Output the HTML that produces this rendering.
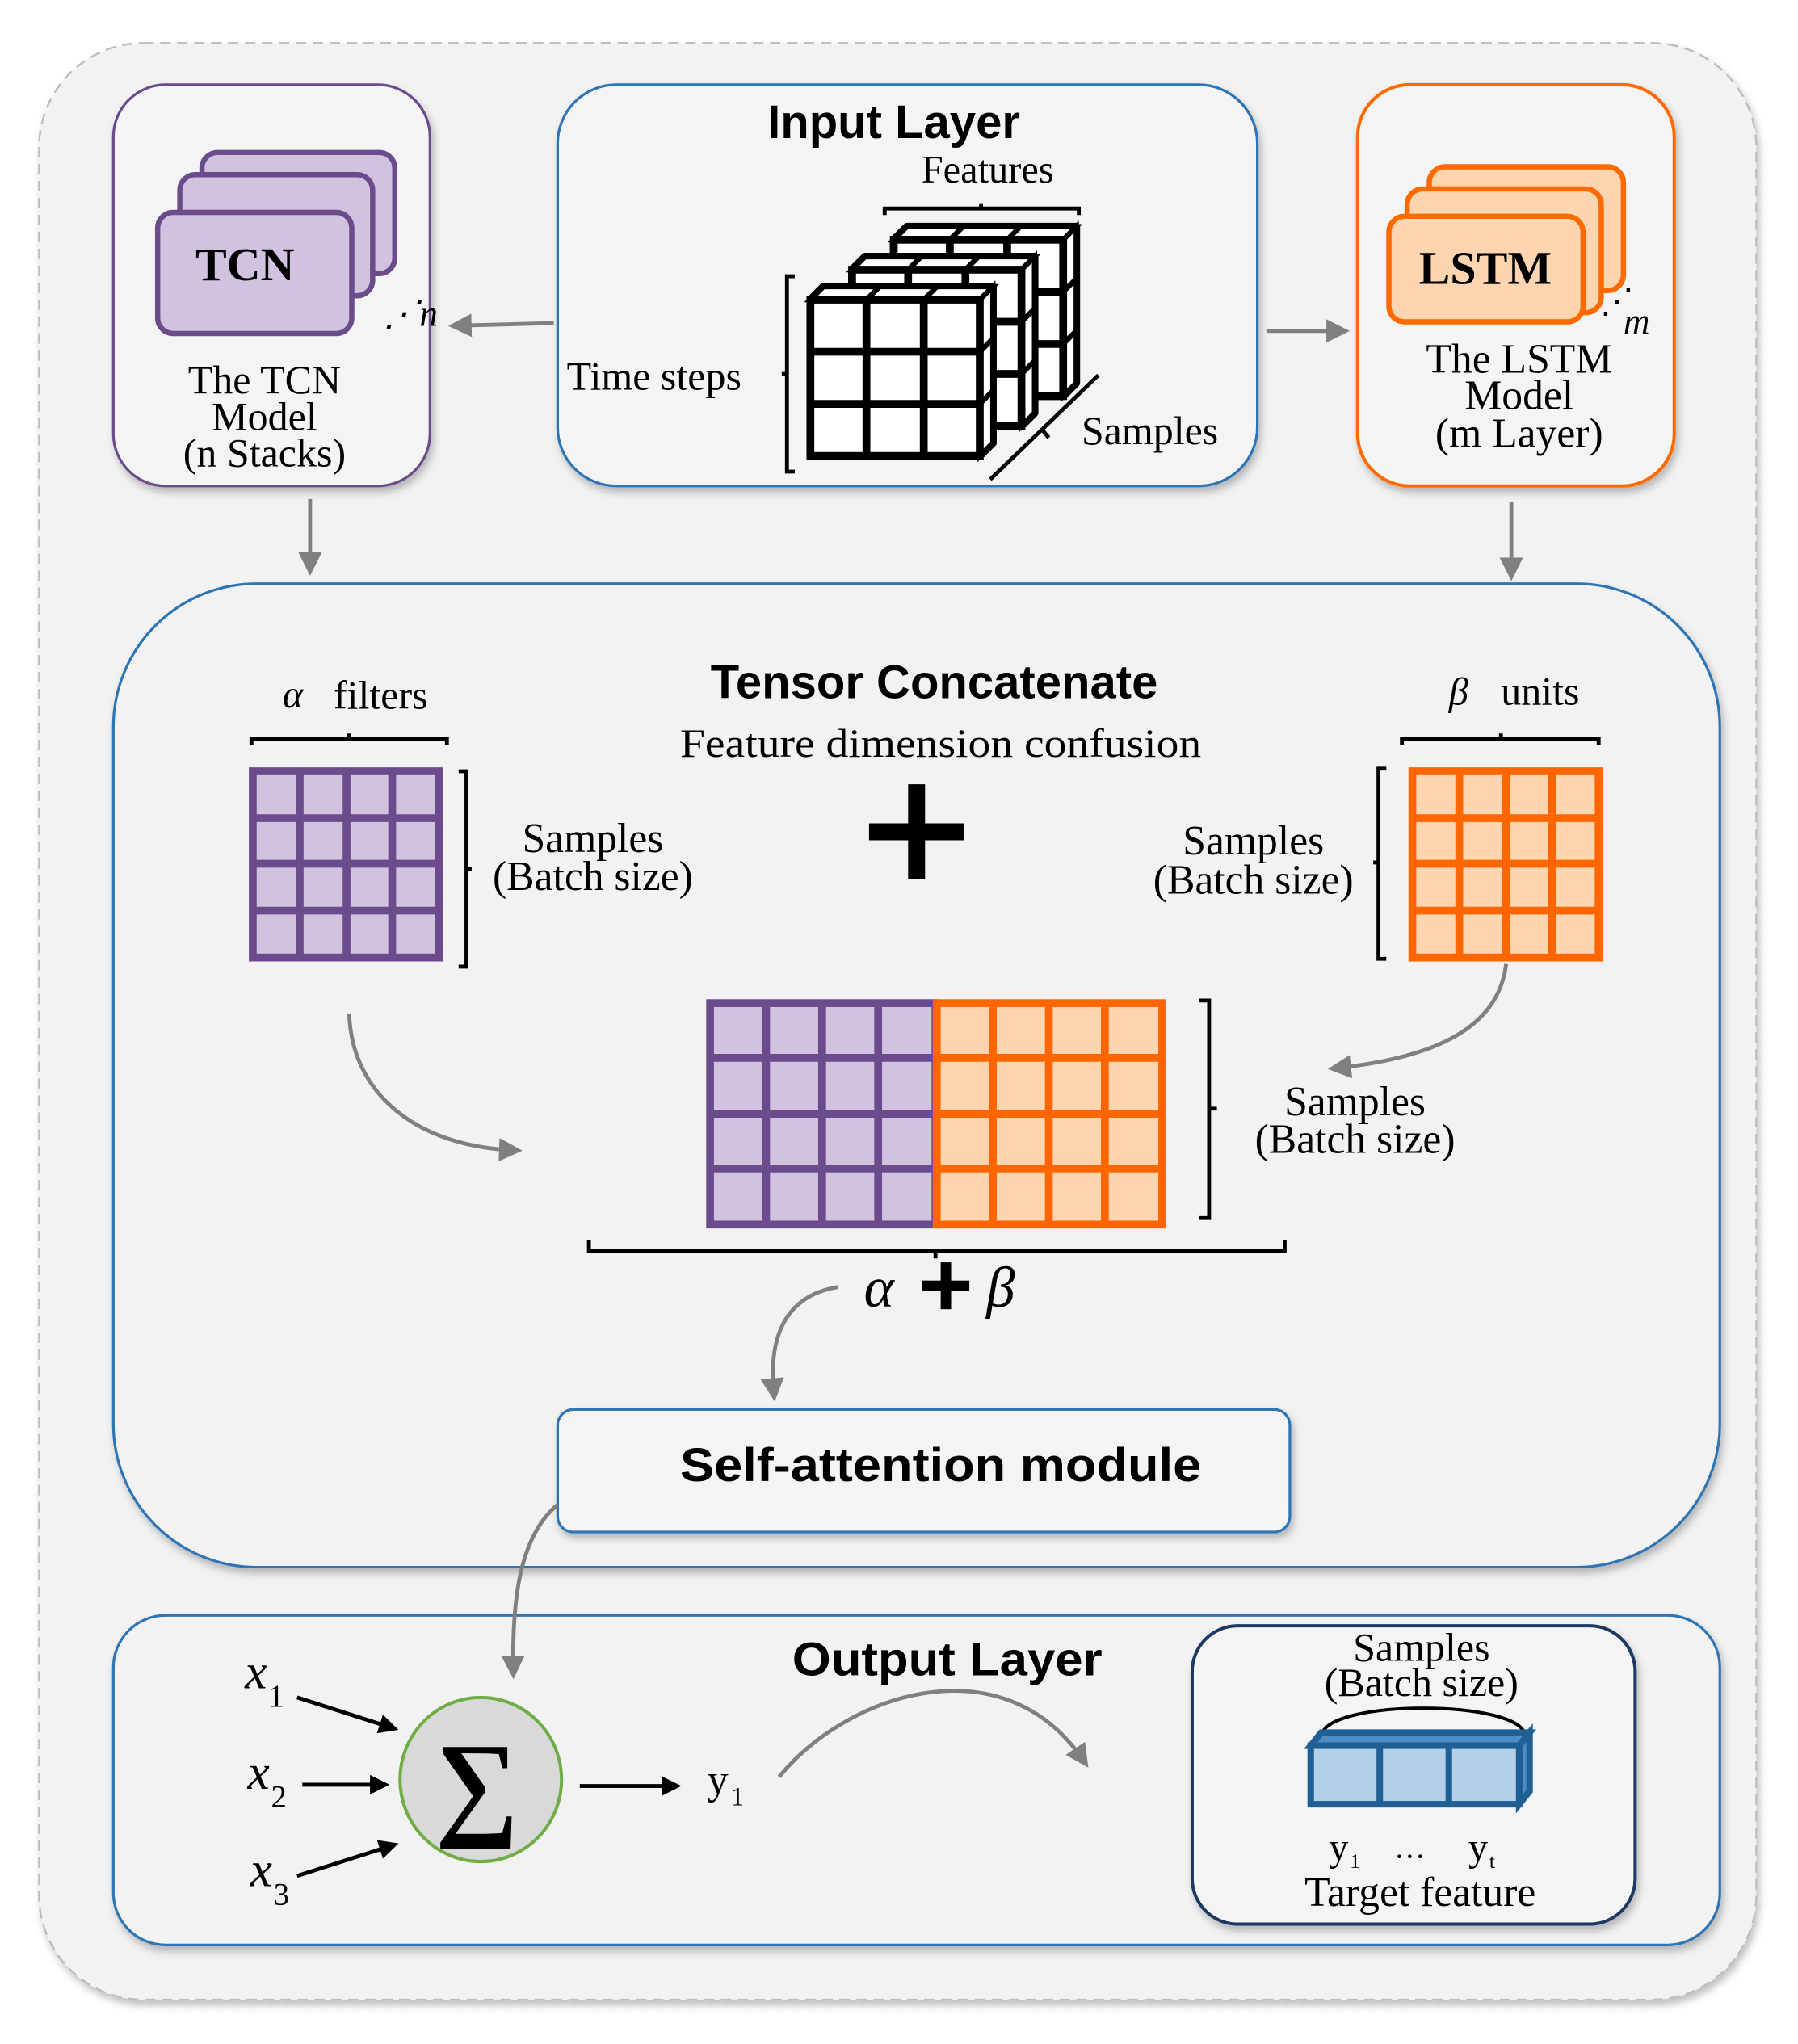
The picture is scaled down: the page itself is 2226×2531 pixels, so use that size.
<!DOCTYPE html>
<html><head><meta charset="utf-8"><style>
html,body{margin:0;padding:0;background:#fff}
svg{display:block}
.s{font-family:"Liberation Serif",serif;fill:#000}
.b{font-family:"Liberation Sans",sans-serif;font-weight:bold;fill:#000}
</style></head><body>
<svg width="2226" height="2531" viewBox="0 0 1380 1569" xmlns="http://www.w3.org/2000/svg">
<defs>
<marker id="ah" markerWidth="6" markerHeight="6" refX="4" refY="3" orient="auto" markerUnits="strokeWidth"><path d="M0,0 L6,3 L0,6 Z" fill="#808080"/></marker>
<marker id="bh" markerWidth="5" markerHeight="5" refX="4" refY="2.5" orient="auto" markerUnits="strokeWidth"><path d="M0,0 L5,2.5 L0,5 Z" fill="#000"/></marker>
<filter id="sh" x="-5%" y="-5%" width="110%" height="115%"><feDropShadow dx="2" dy="4" stdDeviation="3" flood-color="#000" flood-opacity="0.25"/></filter>
<g id="cube">
<path d="M622,230 L632,220 H762 V340 L752,350 H622 Z" fill="#fff" stroke="#000" stroke-width="6" stroke-linejoin="round"/>
<path d="M622,230 L632,220 H762 L752,230 Z M752,230 L762,220 V340 L752,350 Z" fill="#fff" stroke="#000" stroke-width="4"/>
<path d="M665,230 L675,220 M709,230 L719,220 M752,270 L762,260 M752,310 L762,300" stroke="#000" stroke-width="4" fill="none"/>
<rect x="622" y="230" width="130" height="120" fill="#fff" stroke="#000" stroke-width="6"/>
<path d="M665,230V350M709,230V350M622,270H752M622,310H752" stroke="#000" stroke-width="6" fill="none"/>
</g>
</defs>
<rect x="0" y="0" width="1380" height="1569" fill="#fff"/>
<rect x="30" y="33" width="1318" height="1502" rx="80" fill="#f2f2f2" stroke="#bdbdbd" stroke-width="1.5" stroke-dasharray="8,5" filter="url(#sh)"/>

<!-- TCN box -->
<rect x="87" y="65" width="243" height="308" rx="40" fill="#f4f4f4" stroke="#6a4c8c" stroke-width="2" filter="url(#sh)"/>
<g fill="#d1c2e0" stroke="#6a4c8c" stroke-width="4">
<rect x="155" y="117" width="148" height="93" rx="12"/>
<rect x="138" y="134" width="148" height="93" rx="12"/>
<rect x="121" y="163" width="149" height="93" rx="12"/>
</g>
<text x="188" y="215" class="s" font-size="36" font-weight="bold" text-anchor="middle">TCN</text>
<text x="294" y="250" class="s" font-size="28" font-style="italic">⋰n</text>
<text x="203" y="302" class="s" font-size="31" text-anchor="middle">The TCN</text>
<text x="203" y="330" class="s" font-size="31" text-anchor="middle">Model</text>
<text x="203" y="358" class="s" font-size="31" text-anchor="middle">(n Stacks)</text>

<!-- Input layer -->
<rect x="428" y="65" width="537" height="308" rx="45" fill="#f4f4f4" stroke="#2e75b6" stroke-width="2" filter="url(#sh)"/>
<text x="686" y="106" class="b" font-size="36" text-anchor="middle">Input Layer</text>
<text x="758" y="140" class="s" font-size="30" text-anchor="middle">Features</text>
<path d="M679,165 V160 H828 V165 M753,160 V156" fill="none" stroke="#000" stroke-width="3"/>
<path d="M610,212 H604 V362 H610 M604,287 H600" fill="none" stroke="#000" stroke-width="3"/>
<text x="435" y="299" class="s" font-size="31">Time steps</text>
<path d="M760,368 L843,288 M800,330 L805,336" fill="none" stroke="#000" stroke-width="3"/>
<text x="830" y="341" class="s" font-size="31">Samples</text>
<use href="#cube" transform="translate(64,-46)"/>
<use href="#cube" transform="translate(32,-23)"/>
<use href="#cube"/>

<!-- LSTM box -->
<rect x="1042" y="65" width="243" height="308" rx="40" fill="#f4f4f4" stroke="#ff6a00" stroke-width="2.5" filter="url(#sh)"/>
<g fill="#fdd5b1" stroke="#ff6a00" stroke-width="4">
<rect x="1097" y="128" width="149" height="95" rx="12"/>
<rect x="1080" y="145" width="149" height="95" rx="12"/>
<rect x="1066" y="166" width="149" height="81" rx="12"/>
</g>
<text x="1140" y="218" class="s" font-size="36" font-weight="bold" text-anchor="middle">LSTM</text>
<text x="1228" y="240" class="s" font-size="26">⋰</text>
<text x="1246" y="256" class="s" font-size="28" font-style="italic">m</text>
<text x="1166" y="286" class="s" font-size="32" text-anchor="middle">The LSTM</text>
<text x="1166" y="314" class="s" font-size="32" text-anchor="middle">Model</text>
<text x="1166" y="343" class="s" font-size="32" text-anchor="middle">(m Layer)</text>

<!-- top arrows -->
<g stroke="#808080" stroke-width="3" fill="none" marker-end="url(#ah)">
<path d="M425,248 L350,250"/>
<path d="M972,254 L1030,254"/>
<path d="M238,383 L238,436"/>
<path d="M1160,385 L1160,440"/>
</g>

<!-- Tensor concatenate -->
<rect x="87" y="448" width="1233" height="755" rx="110" fill="#f2f2f2" stroke="#2e75b6" stroke-width="2" filter="url(#sh)"/>
<text x="717" y="536" class="b" font-size="36" text-anchor="middle">Tensor Concatenate</text>
<text x="722" y="581" class="s" font-size="31" text-anchor="middle" textLength="400" lengthAdjust="spacingAndGlyphs">Feature dimension confusion</text>
<text x="217" y="543" class="s" font-size="30" font-style="italic">α</text>
<text x="256" y="544" class="s" font-size="31">filters</text>
<path d="M193,572 V567 H343 V572 M268,567 V563" fill="none" stroke="#000" stroke-width="3"/>
<text x="1112" y="541" class="s" font-size="30" font-style="italic">β</text>
<text x="1152" y="541" class="s" font-size="31">units</text>
<path d="M1076,572 V567 H1227 V572 M1152,567 V563" fill="none" stroke="#000" stroke-width="3"/>

<g stroke="#6a4c8c" stroke-width="6" fill="#d1c2e0">
<rect x="194" y="592" width="143" height="143"/>
<path d="M230,592V735M266,592V735M301,592V735M194,628H337M194,663H337M194,699H337"/>
</g>
<path d="M352,592 H358 V742 H352 M358,667 H362" fill="none" stroke="#000" stroke-width="3"/>
<text x="455" y="654" class="s" font-size="32" text-anchor="middle">Samples</text>
<text x="455" y="683" class="s" font-size="32" text-anchor="middle">(Batch size)</text>

<g stroke="#ff6600" stroke-width="6" fill="#fdd5b1">
<rect x="1084" y="592" width="143" height="143"/>
<path d="M1120,592V735M1156,592V735M1191,592V735M1084,628H1227M1084,663H1227M1084,699H1227"/>
</g>
<path d="M1064,590 H1058 V736 H1064 M1058,662 H1054" fill="none" stroke="#000" stroke-width="3"/>
<text x="962" y="656" class="s" font-size="32" text-anchor="middle">Samples</text>
<text x="962" y="686" class="s" font-size="32" text-anchor="middle">(Batch size)</text>

<rect x="667" y="632" width="73" height="13" fill="#000"/>
<rect x="697" y="602" width="13" height="73" fill="#000"/>

<g stroke="#6a4c8c" stroke-width="6" fill="#d1c2e0">
<rect x="545" y="770" width="173" height="170"/>
<path d="M588,770V940M631,770V940M674,770V940M545,812H718M545,855H718M545,897H718"/>
</g>
<g stroke="#ff6600" stroke-width="6" fill="#fdd5b1">
<rect x="719" y="770" width="173" height="170"/>
<path d="M762,770V940M805,770V940M848,770V940M719,812H892M719,855H892M719,897H892"/>
</g>
<path d="M920,768 H928 V935 H920 M928,851 H934" fill="none" stroke="#000" stroke-width="3"/>
<text x="1040" y="856" class="s" font-size="32" text-anchor="middle">Samples</text>
<text x="1040" y="885" class="s" font-size="32" text-anchor="middle">(Batch size)</text>
<path d="M452,952 V960 H986 V952 M718,960 V966" fill="none" stroke="#000" stroke-width="3"/>
<text x="663" y="1003" class="s" font-size="44" font-style="italic">α</text>
<rect x="708" y="983" width="36" height="8" fill="#000"/>
<rect x="722" y="969" width="8" height="36" fill="#000"/>
<text x="757" y="1003" class="s" font-size="44" font-style="italic">β</text>

<g stroke="#808080" stroke-width="3" fill="none" marker-end="url(#ah)">
<path d="M268,778 C270,840 320,880 395,883"/>
<path d="M1156,740 C1150,790 1100,812 1025,820"/>
<path d="M643,988 C600,995 590,1030 594,1070"/>
</g>

<rect x="428" y="1082" width="562" height="94" rx="12" fill="#f4f4f4" stroke="#2e75b6" stroke-width="2" filter="url(#sh)"/>
<text x="722" y="1137" class="b" font-size="36" text-anchor="middle" textLength="400" lengthAdjust="spacingAndGlyphs">Self-attention module</text>

<!-- Output layer -->
<rect x="87" y="1240" width="1233" height="253" rx="40" fill="#f2f2f2" stroke="#2e75b6" stroke-width="2" filter="url(#sh)"/>
<path d="M428,1155 C398,1180 393,1230 394,1283" stroke="#808080" stroke-width="3" fill="none" marker-end="url(#ah)"/>
<text x="727" y="1286" class="b" font-size="36" text-anchor="middle" textLength="238" lengthAdjust="spacingAndGlyphs">Output Layer</text>
<ellipse cx="369" cy="1366" rx="62" ry="63" fill="#d9d9d9" stroke="#70ad47" stroke-width="2.5"/>
<text x="366" y="1400" class="s" font-size="90" font-weight="bold" text-anchor="middle">∑</text>
<text x="188" y="1296" class="s" font-size="38" font-style="italic">x</text><text x="206" y="1310" class="s" font-size="24">1</text>
<text x="190" y="1373" class="s" font-size="38" font-style="italic">x</text><text x="208" y="1387" class="s" font-size="24">2</text>
<text x="192" y="1448" class="s" font-size="38" font-style="italic">x</text><text x="210" y="1462" class="s" font-size="24">3</text>
<g stroke="#000" stroke-width="3" fill="none" marker-end="url(#bh)">
<path d="M228,1303 L303,1327"/>
<path d="M232,1370 L296,1370"/>
<path d="M228,1440 L303,1416"/>
<path d="M445,1371 L520,1371"/>
</g>
<text x="543" y="1377" class="s" font-size="32">y</text><text x="561" y="1386" class="s" font-size="20">1</text>
<path d="M598,1364 C650,1300 770,1260 832,1352" stroke="#808080" stroke-width="3" fill="none" marker-end="url(#ah)"/>

<rect x="915" y="1248" width="340" height="229" rx="35" fill="#f4f4f4" stroke="#1f3864" stroke-width="2.5" filter="url(#sh)"/>
<text x="1091" y="1275" class="s" font-size="31" text-anchor="middle">Samples</text>
<text x="1091" y="1302" class="s" font-size="31" text-anchor="middle">(Batch size)</text>
<path d="M1015,1330 C1025,1305 1160,1305 1170,1330" fill="none" stroke="#000" stroke-width="2.5"/>
<g stroke="#1f5f94" stroke-width="5" fill="#b4cfe8">
<path d="M1006,1340 l8,-10 h160 l-8,10 z" fill="#4d8cc4"/>
<path d="M1166,1340 l8,-10 v45 l-8,10 z" fill="#4d8cc4"/>
<rect x="1006" y="1340" width="160" height="45"/>
<path d="M1059,1340V1385M1112,1340V1385"/>
</g>
<text x="1020" y="1428" class="s" font-size="30">y</text><text x="1036" y="1434" class="s" font-size="16">1</text>
<text x="1070" y="1426" class="s" font-size="24">…</text>
<text x="1127" y="1428" class="s" font-size="30">y</text><text x="1143" y="1434" class="s" font-size="16">t</text>
<text x="1090" y="1463" class="s" font-size="32" text-anchor="middle">Target feature</text>
</svg>
</body></html>
